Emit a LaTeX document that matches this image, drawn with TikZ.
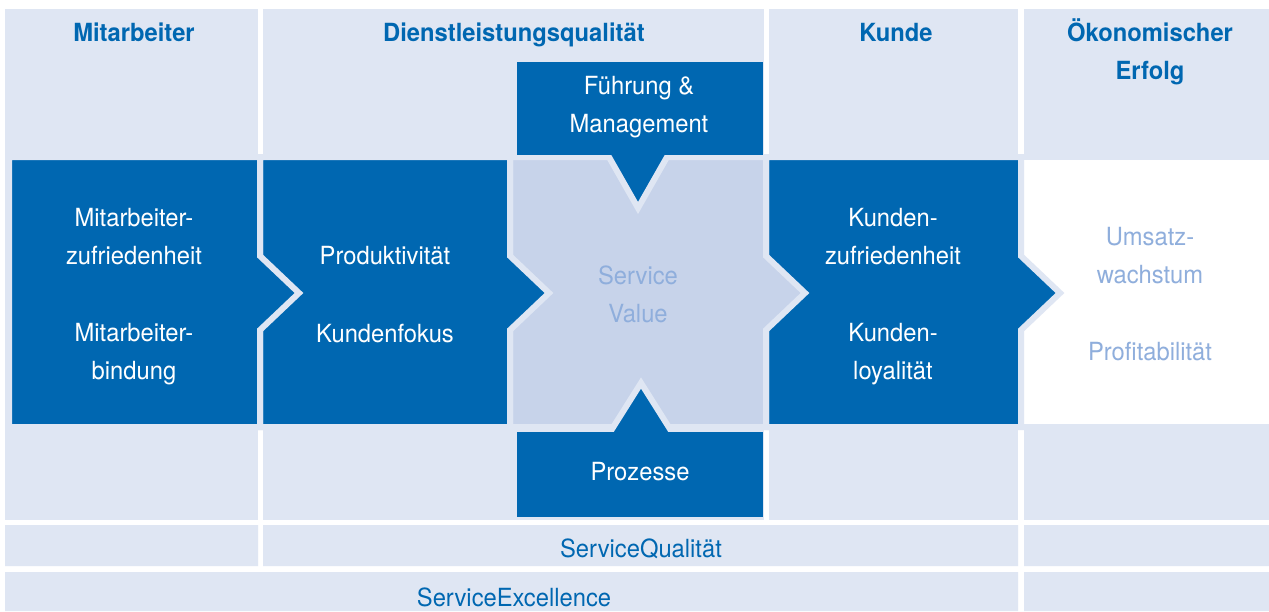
\documentclass[tikz,border=0pt]{standalone}
\usepackage{fontspec}
\setmainfont{TeX Gyre Heros}[FakeStretch=0.95]

\definecolor{sqblue}{RGB}{0,103,177}
\definecolor{sqlight}{RGB}{223,230,243}
\definecolor{sqviolet}{RGB}{199,211,234}
\definecolor{sqfaint}{RGB}{143,174,220}

\tikzset{
  cell/.style={fill=sqlight},
  stage/.style={fill=sqblue, draw=sqlight, line width=3pt},
  head/.style={anchor=base, inner sep=0pt, align=center, text=sqblue,
    font=\fontsize{12.5}{19}\selectfont\bfseries},
  body/.style={anchor=base, inner sep=0pt, align=center, text=white,
    font=\fontsize{12.5}{18.75}\selectfont}
}

\begin{document}
\begin{tikzpicture}[x=0.5pt, y=-0.5pt]
  % page
  \fill[white] (0,0) rectangle (1269,611);
  \useasboundingbox (0,0) rectangle (1269,611);

  % column backgrounds
  \foreach \l/\r in {5/258, 263/764, 769/1018, 1024/1269}
    \fill[cell] (\l,9) rectangle (\r,520);

  % bottom bars
  \fill[cell]
  (5,525) rectangle (258,566)
  (263,525) rectangle (1018,566)
  (1024,525) rectangle (1269,566)
  (5,572) rectangle (1018,611)
  (1024,572) rectangle (1269,611);

  % result column stays white
  \fill[white] (1021,160) rectangle (1269,424);

  % stages, right to left so each arrow lies on its neighbour
  \foreach \l/\r/\c in {766/1021/sqblue, 510/766/sqviolet, 260/510/sqblue, 9/260/sqblue}
    \filldraw[stage, fill=\c]
    (\l,157) -- (\r,157) -- (\r,256) -- ++(39,37) -- (\r,330)
    -- (\r,427) -- (\l,427) -- cycle;

  % pointers into the service value
  \filldraw[stage] (605,150) -- (638,208) -- (671,150) -- cycle;
  \fill[sqblue] (517,62) rectangle (763,155);
  \filldraw[stage] (607,437) -- (641,383) -- (675,437) -- cycle;
  \fill[sqblue] (517,432) rectangle (763,517);

  % headings (multi-line nodes sit on their last line)
  \node[head] (mitarbeiter) at (134,41) {Mitarbeiter};
  \node[head] (dienst) at (514,41) {Dienstleistungsqualität};
  \node[head] (kunde) at (896,41) {Kunde};
  \node[head] (erfolg) at (1150,79) {Ökonomischer\\Erfolg};

  % stage texts
  \node[body] (mazufr) at (134,264) {Mitarbeiter-\\zufriedenheit};
  \node[body] (mabind) at (134,379) {Mitarbeiter-\\bindung};
  \node[body] (produkt) at (385,264) {Produktivität};
  \node[body] (kfokus) at (385,342) {Kundenfokus};
  \node[body, text=sqfaint] (value) at (638,322) {Service\\Value};
  \node[body] (fuehrung) at (639,132) {Führung \&\\Management};
  \node[body] (prozesse) at (640,480) {Prozesse};
  \node[body] (kuzufr) at (893,264) {Kunden-\\zufriedenheit};
  \node[body] (kuloyal) at (893,379) {Kunden-\\loyalität};
  \node[body, text=sqfaint] (umsatz) at (1150,283) {Umsatz-\\wachstum};
  \node[body, text=sqfaint] (profit) at (1150,360) {Profitabilität};

  % bars
  \node[body, text=sqblue] (squal) at (641,557) {ServiceQualität};
  \node[body, text=sqblue] (sexc) at (514,606) {ServiceExcellence};
\end{tikzpicture}
\end{document}
